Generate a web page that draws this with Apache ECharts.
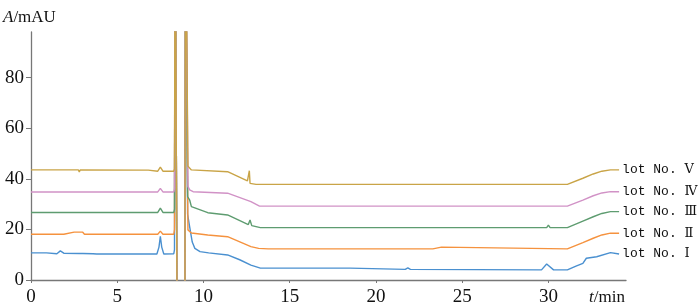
<!DOCTYPE html>
<html>
<head>
<meta charset="utf-8">
<script src="https://cdn.jsdelivr.net/npm/echarts@6/dist/echarts.min.js"></script>
<style>html,body{margin:0;padding:0;background:#fff;}#c{width:700px;height:308px;}</style>
</head>
<body>
<div id="c"></div>
<script>
// Hand-read data: [time (min), absorbance (mAU)]; values above the axis top are off-scale peaks
const seriesNames = ['lot No. Ⅰ', 'lot No. Ⅱ', 'lot No. Ⅲ', 'lot No. Ⅳ', 'lot No. Ⅴ'];
const xTicks = [0, 5, 10, 15, 20, 25, 30];
const yTicks = [0, 20, 40, 60, 80];

const lotI = [[0,10.7],[0.9,10.7],[1.0,10.3],[1.5,10.4],[1.7,11.5],[1.9,10.6],[2.8,10.5],[2.9,10.1],[3.0,10.5],[3.6,10.4],[3.7,10.0],[3.8,10.3],
  [7.3,10.3],[7.42,13],[7.5,17.3],[7.58,13],[7.7,10.3],[8.28,10.4],[8.32,12],[8.36,150],[8.44,150],[8.48,-30],[8.92,-30],[8.96,150],[9.04,150],
  [9.08,26],[9.2,21],[9.35,15],[9.5,12.5],[9.8,11.2],[10.3,10.7],[11.4,9.9],[12.1,8.0],[12.75,5.9],[13.3,4.7],[18.5,4.7],[18.6,4.2],
  [21.7,4.2],[21.85,4.8],[22.0,4.2],[29.6,4.0],[29.9,6.3],[30.3,4.0],[31.1,4.0],[31.6,5.5],[32.0,6.6],[32.2,8.6],[32.8,9.2],[33.6,10.8],[34.1,10.3]];

const lotII = [[0,18.1],[1.9,18.1],[1.95,18.8],[2.5,18.9],[2.6,18.3],[2.7,18.9],[3.0,18.9],[3.1,18.1],[4.45,18.1],[4.5,18.7],[4.55,18.1],
  [7.35,18.1],[7.5,19.3],[7.65,18.1],[8.28,18.1],[8.32,20],[8.36,150],[8.44,150],[8.48,-30],[8.92,-30],[8.96,150],[9.04,150],
  [9.1,19.8],[9.3,18.6],[10.25,17.8],[11.4,17.1],[12.75,13.2],[13.2,12.5],[13.75,12.3],[13.85,13.0],[13.95,12.3],
  [23.3,12.3],[23.4,13.0],[23.8,13.0],[23.9,12.3],[31.1,12.3],[32.0,14.8],[32.6,16.5],[33.1,17.8],[33.6,18.5],[34.1,18.5]];

const lotIII = [[0,26.7],[7.35,26.7],[7.5,28.4],[7.65,26.7],[8.28,26.7],[8.32,28],[8.36,150],[8.44,150],[8.48,-30],[8.92,-30],[8.96,150],[9.04,150],
  [9.08,33],[9.2,31.6],[9.3,29.0],[10.25,26.6],[11.4,25.7],[12.6,21.9],[12.7,23.7],[12.8,21.5],[13.3,20.7],
  [23.6,20.7],[23.7,21.4],[23.8,20.7],[29.9,20.7],[30.0,21.7],[30.1,20.7],[31.1,20.7],[32.0,23.3],[32.6,25.0],[33.1,26.3],[33.6,27.0],[34.1,27.0]];

const lotIV = [[0,34.8],[7.35,34.8],[7.5,36.2],[7.65,34.8],[8.28,34.8],[8.32,36],[8.36,150],[8.44,150],[8.48,-30],[8.92,-30],[8.96,150],[9.04,150],
  [9.1,37],[9.2,35.6],[9.4,34.9],[11.4,34.3],[12.75,31.0],[13.25,29.2],[13.85,29.2],[13.9,29.9],[13.95,29.2],
  [31.1,29.2],[32.0,31.6],[32.6,33.3],[33.1,34.4],[33.6,34.9],[34.1,34.9]];

const lotV = [[0,43.5],[2.75,43.5],[2.8,42.7],[2.85,43.5],[6.8,43.4],[6.9,43.0],[7.35,43.0],[7.5,44.6],[7.65,43.0],[8.28,43.0],[8.32,44],[8.36,150],[8.44,150],[8.48,-30],[8.92,-30],[8.96,150],[9.04,150],
  [9.1,45],[9.3,43.5],[11.4,42.8],[12.55,39.2],[12.64,39.0],[12.66,43.2],[12.7,38.2],[13.05,37.8],
  [31.1,37.8],[32.0,40.2],[32.6,41.9],[33.1,43.0],[33.6,43.5],[34.1,43.5]];

const seriesData = [lotI, lotII, lotIII, lotIV, lotV];
const colors = ['#4a90d0', '#f5923e', '#5e9c70', '#d192c6', '#c9a447'];

const chart = echarts.init(document.getElementById('c'));
const serif = "'Liberation Serif', 'DejaVu Serif', serif";
chart.setOption({
  animation: false,
  grid: { left: 29, right: 74, top: 32, bottom: 28 },
  xAxis: {
    type: 'value', min: 0, max: 34.5, interval: 5,
    axisLine: { lineStyle: { color: '#777', width: 1.3 } },
    axisTick: { show: true, length: 3, customValues: xTicks, lineStyle: { color: '#777' } },
    axisLabel: { customValues: xTicks, margin: 8, color: '#111', fontSize: 19, fontFamily: serif },
    splitLine: { show: false }
  },
  yAxis: {
    type: 'value', min: 0, max: 98, interval: 20,
    axisLine: { show: true, lineStyle: { color: '#777', width: 1.3 } },
    axisTick: { show: true, length: 5, customValues: yTicks, lineStyle: { color: '#777' } },
    axisLabel: { customValues: yTicks, margin: 7, color: '#111', fontSize: 19, fontFamily: serif },
    splitLine: { show: false },
    name: '{i|A}/mAU', nameLocation: 'end', nameGap: 6,
    nameTextStyle: { color: '#111', fontSize: 17, fontFamily: serif, align: 'left', padding: [0, 0, 0, -28],
      rich: { i: { fontStyle: 'italic', fontSize: 17, fontFamily: serif, color: '#111' } } }
  },
  graphic: [{
    type: 'text', left: 589, top: 289,
    style: { text: '{i|t}/min', fill: '#111', font: "17px 'Liberation Serif'",
      rich: { i: { fontStyle: 'italic', fontSize: 17, fontFamily: serif, fill: '#111' } } }
  }],
  series: seriesData.map((d, i) => ({
    type: 'line', name: seriesNames[i], data: d, showSymbol: false, symbol: 'none',
    lineStyle: { color: colors[i], width: 1.4 }, itemStyle: { color: colors[i] },
    clip: true,
    endLabel: { show: true, formatter: '{a}', distance: 3, color: '#111', fontSize: 13,
      fontFamily: "'Liberation Mono', 'DejaVu Serif', monospace" }
  }))
});
</script>
</body>
</html>
